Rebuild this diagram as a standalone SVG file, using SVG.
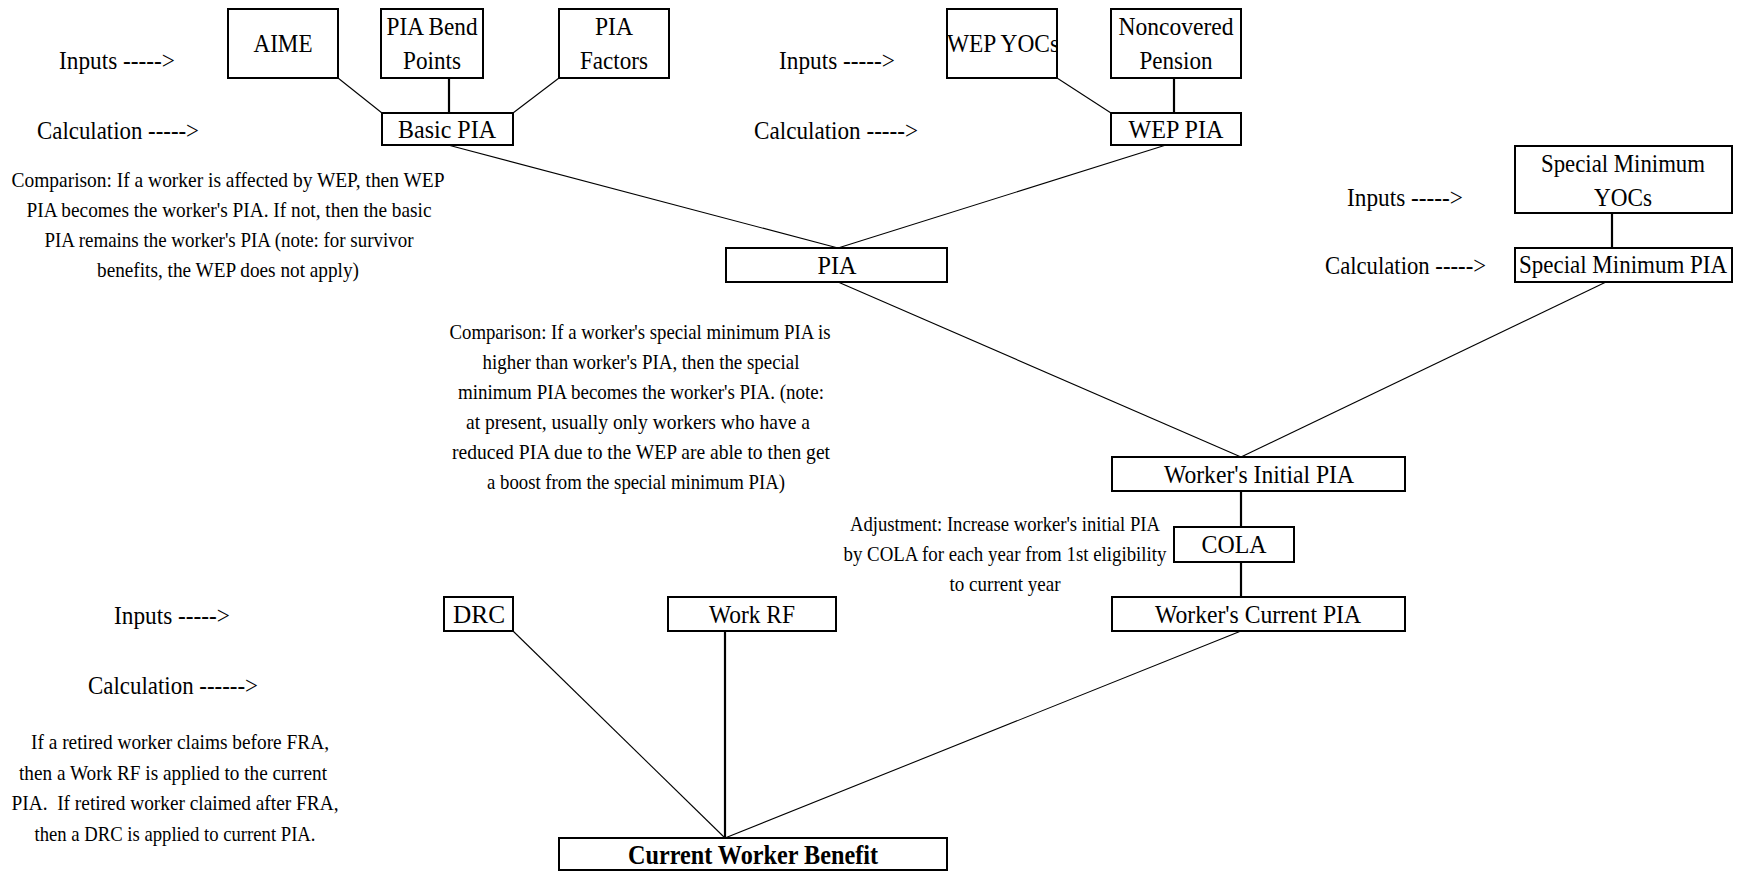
<svg xmlns="http://www.w3.org/2000/svg" width="1737" height="871" viewBox="0 0 1737 871">
<style>
text{font-family:"Liberation Serif","Times New Roman",serif;font-size:26px;fill:#000}
.c{text-anchor:middle}
.n{font-size:22px}
.b{font-weight:bold;font-size:27px}
.box{fill:#fff;stroke:#000;stroke-width:2}
.thin{stroke:#000;stroke-width:1.1;fill:none}
.thick{stroke:#000;stroke-width:2.2;fill:none}
</style>
<defs>
<clipPath id="clipWep"><rect x="948" y="10" width="108" height="67"/></clipPath>
</defs>
<rect width="1737" height="871" fill="#fff"/>
<g id="connectors">
<line class="thin" x1="338" y1="78" x2="382" y2="113"/>
<line class="thick" x1="449" y1="78" x2="449" y2="113"/>
<line class="thin" x1="559" y1="78" x2="513" y2="113"/>
<line class="thin" x1="448" y1="145" x2="838" y2="248"/>
<line class="thin" x1="1166" y1="145" x2="838" y2="248"/>
<line class="thin" x1="1057" y1="78" x2="1111" y2="113"/>
<line class="thick" x1="1174" y1="78" x2="1174" y2="113"/>
<line class="thick" x1="1612" y1="213" x2="1612" y2="248"/>
<line class="thin" x1="838" y1="282" x2="1241" y2="457"/>
<line class="thin" x1="1606" y1="282" x2="1241" y2="457"/>
<line class="thick" x1="1241" y1="491" x2="1241" y2="527"/>
<line class="thick" x1="1241" y1="562" x2="1241" y2="597"/>
<line class="thin" x1="513" y1="631" x2="725" y2="838"/>
<line class="thick" x1="725" y1="631" x2="725" y2="838"/>
<line class="thin" x1="1241" y1="631" x2="725" y2="838"/>
</g>
<g id="labels">
<text x="59" y="69" textLength="116" lengthAdjust="spacingAndGlyphs">Inputs -----&gt;</text>
<text x="37" y="139" textLength="162" lengthAdjust="spacingAndGlyphs">Calculation -----&gt;</text>
<text class="c n" x="228" y="187" textLength="433" lengthAdjust="spacingAndGlyphs">Comparison: If a worker is affected by WEP, then WEP</text>
<text class="c n" x="229" y="217" textLength="405" lengthAdjust="spacingAndGlyphs">PIA becomes the worker's PIA. If not, then the basic</text>
<text class="c n" x="229" y="247" textLength="369" lengthAdjust="spacingAndGlyphs">PIA remains the worker's PIA (note: for survivor</text>
<text class="c n" x="228" y="277" textLength="262" lengthAdjust="spacingAndGlyphs">benefits, the WEP does not apply)</text>
<text x="779" y="69" textLength="116" lengthAdjust="spacingAndGlyphs">Inputs -----&gt;</text>
<text x="754" y="139" textLength="164" lengthAdjust="spacingAndGlyphs">Calculation -----&gt;</text>
<text x="1347" y="206" textLength="116" lengthAdjust="spacingAndGlyphs">Inputs -----&gt;</text>
<text x="1325" y="274" textLength="161" lengthAdjust="spacingAndGlyphs">Calculation -----&gt;</text>
<text class="c n" x="640" y="339" textLength="381" lengthAdjust="spacingAndGlyphs">Comparison: If a worker's special minimum PIA is</text>
<text class="c n" x="641" y="369" textLength="317" lengthAdjust="spacingAndGlyphs">higher than worker's PIA, then the special</text>
<text class="c n" x="641" y="399" textLength="366" lengthAdjust="spacingAndGlyphs">minimum PIA becomes the worker's PIA. (note:</text>
<text class="c n" x="638" y="429" textLength="344" lengthAdjust="spacingAndGlyphs">at present, usually only workers who have a</text>
<text class="c n" x="641" y="459" textLength="378" lengthAdjust="spacingAndGlyphs">reduced PIA due to the WEP are able to then get</text>
<text class="c n" x="636" y="489" textLength="298" lengthAdjust="spacingAndGlyphs">a boost from the special minimum PIA)</text>
<text class="c n" x="1005" y="531" textLength="310" lengthAdjust="spacingAndGlyphs">Adjustment: Increase worker's initial PIA</text>
<text class="c n" x="1005" y="561" textLength="323" lengthAdjust="spacingAndGlyphs">by COLA for each year from 1st eligibility</text>
<text class="c n" x="1005" y="591" textLength="111" lengthAdjust="spacingAndGlyphs">to current year</text>
<text x="114" y="624" textLength="116" lengthAdjust="spacingAndGlyphs">Inputs -----&gt;</text>
<text x="88" y="694" textLength="170" lengthAdjust="spacingAndGlyphs">Calculation ------&gt;</text>
<text class="c n" x="180" y="749" textLength="298" lengthAdjust="spacingAndGlyphs">If a retired worker claims before FRA,</text>
<text class="c n" x="173" y="780" textLength="308" lengthAdjust="spacingAndGlyphs">then a Work RF is applied to the current</text>
<text class="c n" x="175" y="810" textLength="327" lengthAdjust="spacingAndGlyphs" xml:space="preserve">PIA.  If retired worker claimed after FRA,</text>
<text class="c n" x="175" y="841" textLength="281" lengthAdjust="spacingAndGlyphs">then a DRC is applied to current PIA.</text>
</g>
<g id="aime"><rect class="box" x="228" y="9" width="110" height="69"/><text class="c" x="283" y="52" textLength="59" lengthAdjust="spacingAndGlyphs">AIME</text></g>
<g id="pia-bend-points"><rect class="box" x="381" y="9" width="102" height="69"/><text class="c" x="432" y="35" textLength="91" lengthAdjust="spacingAndGlyphs">PIA Bend</text><text class="c" x="432" y="69" textLength="58" lengthAdjust="spacingAndGlyphs">Points</text></g>
<g id="pia-factors"><rect class="box" x="559" y="9" width="110" height="69"/><text class="c" x="614" y="35" textLength="38" lengthAdjust="spacingAndGlyphs">PIA</text><text class="c" x="614" y="69" textLength="68" lengthAdjust="spacingAndGlyphs">Factors</text></g>
<g id="basic-pia"><rect class="box" x="382" y="113" width="131" height="32"/><text class="c" x="447" y="138" textLength="98" lengthAdjust="spacingAndGlyphs">Basic PIA</text></g>
<g id="wep-yocs"><rect class="box" x="947" y="9" width="110" height="69"/><text class="c" x="1003" y="52" textLength="112" lengthAdjust="spacingAndGlyphs" clip-path="url(#clipWep)">WEP YOCs</text></g>
<g id="noncovered-pension"><rect class="box" x="1111" y="9" width="130" height="69"/><text class="c" x="1176" y="35" textLength="115" lengthAdjust="spacingAndGlyphs">Noncovered</text><text class="c" x="1176" y="69" textLength="73" lengthAdjust="spacingAndGlyphs">Pension</text></g>
<g id="wep-pia"><rect class="box" x="1111" y="113" width="130" height="32"/><text class="c" x="1176" y="138" textLength="95" lengthAdjust="spacingAndGlyphs">WEP PIA</text></g>
<g id="pia"><rect class="box" x="726" y="248" width="221" height="34"/><text class="c" x="837" y="274" textLength="39" lengthAdjust="spacingAndGlyphs">PIA</text></g>
<g id="special-minimum-yocs"><rect class="box" x="1515" y="146" width="217" height="67"/><text class="c" x="1623" y="172" textLength="164" lengthAdjust="spacingAndGlyphs">Special Minimum</text><text class="c" x="1623" y="206" textLength="58" lengthAdjust="spacingAndGlyphs">YOCs</text></g>
<g id="special-minimum-pia"><rect class="box" x="1515" y="248" width="217" height="34"/><text class="c" x="1623" y="273" textLength="208" lengthAdjust="spacingAndGlyphs">Special Minimum PIA</text></g>
<g id="workers-initial-pia"><rect class="box" x="1112" y="457" width="293" height="34"/><text class="c" x="1259" y="483" textLength="190" lengthAdjust="spacingAndGlyphs">Worker's Initial PIA</text></g>
<g id="cola"><rect class="box" x="1174" y="527" width="120" height="35"/><text class="c" x="1234" y="553" textLength="65" lengthAdjust="spacingAndGlyphs">COLA</text></g>
<g id="workers-current-pia"><rect class="box" x="1112" y="597" width="293" height="34"/><text class="c" x="1258" y="623" textLength="206" lengthAdjust="spacingAndGlyphs">Worker's Current PIA</text></g>
<g id="drc"><rect class="box" x="444" y="597" width="69" height="34"/><text class="c" x="479" y="623" textLength="52" lengthAdjust="spacingAndGlyphs">DRC</text></g>
<g id="work-rf"><rect class="box" x="668" y="597" width="168" height="34"/><text class="c" x="752" y="623" textLength="86" lengthAdjust="spacingAndGlyphs">Work RF</text></g>
<g id="current-worker-benefit"><rect class="box" x="559" y="838" width="388" height="32"/><text class="c b" x="753" y="864" textLength="250" lengthAdjust="spacingAndGlyphs">Current Worker Benefit</text></g>
</svg>
